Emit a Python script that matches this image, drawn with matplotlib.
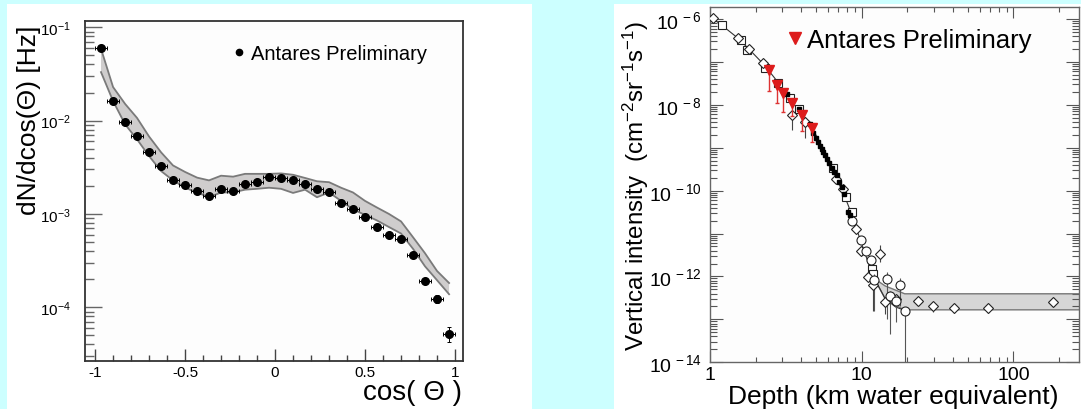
import matplotlib
matplotlib.use("Agg")
import matplotlib.pyplot as plt
import numpy as np
from matplotlib.patches import Rectangle
from matplotlib.lines import Line2D
from matplotlib.ticker import LogLocator, NullFormatter, FixedLocator, MultipleLocator

plt.rcParams['font.family'] = ['Liberation Sans', 'DejaVu Sans']
plt.rcParams['mathtext.fontset'] = 'custom'
plt.rcParams['mathtext.rm'] = 'Liberation Sans'
plt.rcParams['mathtext.it'] = 'Liberation Sans:italic'
plt.rcParams['mathtext.bf'] = 'Liberation Sans:bold'

# ---- left panel: zenith angle distribution ----
cos_theta = [-0.967, -0.9, -0.833, -0.767, -0.7, -0.633, -0.567, -0.5, -0.433, -0.367,
             -0.3, -0.233, -0.167, -0.1, -0.033, 0.033, 0.1, 0.167, 0.233, 0.3,
             0.367, 0.433, 0.5, 0.567, 0.633, 0.7, 0.767, 0.833, 0.9, 0.967]
rate = [0.0596, 0.0163, 0.0096, 0.00689, 0.00457, 0.00324, 0.00233, 0.00204, 0.00177, 0.00157,
        0.00185, 0.00177, 0.00209, 0.00221, 0.00249, 0.00243, 0.00233, 0.00208, 0.00185, 0.00172,
        0.00131, 0.00114, 0.000927, 0.000724, 0.000599, 0.000538, 0.000366, 0.000192, 0.000124, 5.16e-5]
rate_relerr = [0.02] * 25 + [0.03, 0.04, 0.08, 0.10, 0.18]
band_hi = [0.0589, 0.0229, 0.0151, 0.0107, 0.00676, 0.00457, 0.00331, 0.00282, 0.00245, 0.00229,
           0.00257, 0.00251, 0.00269, 0.00269, 0.00269, 0.00272, 0.00263, 0.00243, 0.00224, 0.00219,
           0.00191, 0.00170, 0.00138, 0.00117, 0.00100, 0.000832, 0.000562, 0.000380, 0.000245, 0.000182]
band_lo = [0.0331, 0.0162, 0.00912, 0.00631, 0.00417, 0.00288, 0.00229, 0.00191, 0.00170, 0.00151,
           0.00170, 0.00170, 0.00182, 0.00186, 0.00191, 0.00186, 0.00168, 0.00182, 0.00151, 0.00170,
           0.00138, 0.00112, 0.000977, 0.000851, 0.000724, 0.000617, 0.000422, 0.000275, 0.000195, 0.000138]
bin_half = 1 / 30

# ---- right panel: depth-intensity relation ----
curve_depth = [1.0, 1.20, 1.54, 1.83, 2.25, 2.67, 3.29, 4.06, 4.74, 5.56, 6.50, 7.60, 8.22,
               8.89, 10.1, 11.2, 12.1, 13.2, 14.3, 16.7, 19.2]
curve_int = [1.15e-6, 7.1e-7, 3.5e-7, 1.9e-7, 8.9e-8, 4.2e-8, 1.4e-8, 6.3e-9, 2.8e-9, 9.5e-10,
             2.75e-10, 8.5e-11, 4.2e-11, 1.9e-11, 5.2e-12, 1.8e-12, 8.9e-13, 5.1e-13, 3.0e-13,
             1.95e-13, 1.62e-13]

nu_band_depth = [12.1, 14.3, 19.2, 19.3, 300]
nu_band_hi = [8.9e-13, 6.0e-13, 3.95e-13, 3.95e-13, 3.95e-13]
nu_band_lo = [8.9e-13, 3.0e-13, 1.62e-13, 1.67e-13, 1.67e-13]

diam_depth = [1.05, 1.54, 1.80, 2.22, 3.47, 4.23, 6.75, 7.48, 9.14, 9.9, 10.97, 11.9, 13.2,
              14.3, 16.7, 23.4, 29.4, 40.6, 67.6, 183]
diam_int = [1.05e-6, 3.7e-7, 2.0e-7, 9.5e-8, 5.8e-9, 4.0e-9, 1.9e-10, 1.08e-10, 1.3e-11, 4.0e-12,
            9.7e-13, 6.2e-13, 3.4e-12, 2.5e-13, 3.0e-13, 2.75e-13, 2.1e-13, 1.8e-13, 1.8e-13, 2.5e-13]
diam_lo = [1.05e-6, 3.7e-7, 2.0e-7, 9.5e-8, 2.6e-9, 1.7e-9, 1.9e-10, 1.08e-10, 1.3e-11, 4.0e-12,
           9.7e-13, 1.6e-13, 2.2e-12, 1.3e-13, 3.0e-13, 2.75e-13, 1.5e-13, 1.4e-13, 1.4e-13, 2.5e-13]
diam_hi = [1.05e-6, 3.7e-7, 2.0e-7, 9.5e-8, 5.8e-9, 4.0e-9, 1.9e-10, 1.08e-10, 1.3e-11, 4.0e-12,
           9.7e-13, 6.2e-13, 5.5e-12, 2.5e-13, 3.0e-13, 2.75e-13, 2.1e-13, 1.8e-13, 1.8e-13, 2.5e-13]

sq_depth = [1.20, 1.59, 1.75, 2.30, 2.82, 3.37, 3.88, 6.50, 7.86, 8.6, 11.6, 11.9]
sq_int = [7.1e-7, 3.2e-7, 1.9e-7, 7.1e-8, 3.2e-8, 1.48e-8, 8.0e-9, 3.3e-10, 7.2e-11, 3.2e-11,
          1.5e-12, 1.15e-12]

circ_depth = [8.67, 9.88, 10.7, 11.57, 12.05, 14.6, 15.4, 16.7, 18.0, 19.2]
circ_int = [2.0e-11, 6.9e-12, 4.0e-12, 2.4e-12, 8.1e-13, 8.8e-13, 3.6e-13, 2.75e-13, 6.2e-13, 1.6e-13]
circ_lo = [2.0e-11, 6.9e-12, 4.0e-12, 2.4e-12, 1.55e-13, 1.0e-13, 4.6e-14, 8.5e-14, 2.1e-13, 1.0e-14]
circ_hi = [2.0e-11, 6.9e-12, 4.0e-12, 2.4e-12, 1.15e-12, 1.25e-12, 4.7e-13, 2.75e-13, 9.0e-13, 1.6e-13]

blk_depth = [3.23, 3.88, 4.55, 4.80, 4.99, 5.15, 5.31, 5.44, 5.58, 5.73, 5.88, 6.13, 6.35,
             6.58, 6.83, 7.10, 7.39, 7.66, 8.17, 8.37]
blk_int = [1.8e-8, 7.9e-9, 3.5e-9, 2.16e-9, 1.7e-9, 1.35e-9, 1.1e-9, 9.5e-10, 8.1e-10, 6.8e-10,
           5.6e-10, 4.5e-10, 3.4e-10, 2.75e-10, 2.3e-10, 1.6e-10, 1.22e-10, 8.5e-11, 3.2e-11, 2.7e-11]

ant_depth = [2.46, 2.75, 3.04, 3.46, 4.02, 4.73]
ant_int = [6.5e-8, 2.9e-8, 1.93e-8, 1.08e-8, 5.8e-9, 2.93e-9]
ant_lo = [2.1e-8, 1.08e-8, 6.9e-9, 5.4e-9, 2.4e-9, 1.37e-9]
ant_hi = [7.9e-8, 3.5e-8, 2.3e-8, 1.3e-8, 6.9e-9, 3.6e-9]

left_xticks = [-1, -0.5, 0, 0.5, 1]
left_xticklabels = ['-1', '-0.5', '0', '0.5', '1']
left_yticks = [1e-4, 1e-3, 1e-2, 1e-1]
left_yticklabels = [r'$10^{-4}$', r'$10^{-3}$', r'$10^{-2}$', r'$10^{-1}$']
right_xticks = [1, 10, 100]
right_xticklabels = ['1', '10', '100']
right_yticks = [1e-14, 1e-13, 1e-12, 1e-11, 1e-10, 1e-9, 1e-8, 1e-7, 1e-6]
right_yticklabels = [r'$10^{\,-14}$', '', r'$10^{\,-12}$', '', r'$10^{\,-10}$', '',
                     r'$10^{\,-8}$', '', r'$10^{\,-6}$']

W, H = 1081, 410
fig = plt.figure(figsize=(W / 100, H / 100), dpi=100)
fig.patch.set_facecolor('#ccffff')
fig.add_artist(Rectangle((7 / W, 0), (532 - 7) / W, 405 / H, transform=fig.transFigure,
                         facecolor='white', edgecolor='none', zorder=-5))
fig.add_artist(Rectangle((614 / W, 0), (W - 614) / W, 405 / H, transform=fig.transFigure,
                         facecolor='white', edgecolor='none', zorder=-5))

# ================= left =================
ax1 = fig.add_axes([85 / W, 1 - 362.3 / H, (463.3 - 85) / W, (362.3 - 21.7) / H])
ax1.set_facecolor('#fdfdfd')
ax1.fill_between(cos_theta, band_lo, band_hi, facecolor='#cfcdcd', edgecolor='none', zorder=1)
ax1.plot(cos_theta, band_hi, color='#7a7a7a', lw=1.3, zorder=2)
ax1.plot(cos_theta, band_lo, color='#7a7a7a', lw=1.3, zorder=2)
yerr = np.array(rate) * np.array(rate_relerr)
ax1.errorbar(cos_theta, rate, xerr=bin_half, yerr=yerr, fmt='o', color='black', ms=5.5,
             elinewidth=0.7, capsize=1.5, capthick=0.7, zorder=3)
ax1.set_yscale('log')
ax1.set_xlim(-1.056, 1.046)
ax1.set_ylim(10 ** -4.579, 10 ** -0.929)
ax1.set_xticks(left_xticks)
ax1.set_xticklabels(left_xticklabels)
ax1.xaxis.set_minor_locator(MultipleLocator(0.1))
ax1.set_yticks(left_yticks)
ax1.set_yticklabels(left_yticklabels)
ax1.yaxis.set_minor_locator(LogLocator(base=10, subs=np.arange(2, 10), numticks=100))
ax1.yaxis.set_minor_formatter(NullFormatter())
ax1.tick_params(axis='x', which='major', direction='in', length=9, width=1, labelsize=11,
                pad=3, color='#444444')
ax1.tick_params(axis='x', which='minor', direction='in', length=4.5, width=1, color='#444444')
ax1.tick_params(axis='y', which='major', direction='in', length=12, width=1, labelsize=11,
                pad=10, color='#666666')
ax1.tick_params(axis='y', which='minor', direction='in', length=6.5, width=1, color='#666666')
for s in ax1.spines.values():
    s.set_linewidth(1.3)
    s.set_color('#333333')

ax1.legend(handles=[Line2D([], [], marker='o', color='black', ms=4.5, ls='none')],
           labels=['Antares Preliminary'], loc='center left',
           bbox_to_anchor=(234.5 / W, 1 - 55 / H), bbox_transform=fig.transFigure,
           frameon=False, fontsize=14.5, handlelength=0.45, handletextpad=0.35,
           borderpad=0, borderaxespad=0)

fig.text(29 / W, 1 - 120 / H, 'dN/dcos(Θ) [Hz]', rotation=90, ha='center', va='center',
         fontsize=19)
fig.text(462 / W, 1 - 393 / H, 'cos( Θ )', ha='right', va='center', fontsize=20)

# ================= right =================
ax2 = fig.add_axes([710 / W, 1 - 363.3 / H, (1079 - 710) / W, (363.3 - 8.3) / H])
ax2.set_facecolor('#fdfdfd')
ax2.set_xscale('log')
ax2.set_yscale('log')
ax2.fill_between(nu_band_depth, nu_band_lo, nu_band_hi, facecolor='#d6d6d6',
                 edgecolor='none', zorder=1)
ax2.plot(nu_band_depth, nu_band_hi, color='#777777', lw=1.0, zorder=2)
ax2.plot(nu_band_depth, nu_band_lo, color='#777777', lw=1.0, zorder=2)
ax2.plot(curve_depth, curve_int, color='#333333', lw=0.8, zorder=2)

d_int = np.array(diam_int)
ax2.errorbar(diam_depth, diam_int, yerr=[d_int - np.array(diam_lo), np.array(diam_hi) - d_int],
             fmt='D', ms=5, mfc='white', mec='#222222', mew=0.8, ecolor='#444444',
             elinewidth=0.8, capsize=0, zorder=4)
c_int = np.array(circ_int)
ax2.errorbar(circ_depth, circ_int, yerr=[c_int - np.array(circ_lo), np.array(circ_hi) - c_int],
             fmt='o', ms=6.5, mfc='white', mec='#222222', mew=0.8, ecolor='#555555',
             elinewidth=0.8, capsize=0, zorder=4)
ax2.plot(sq_depth, sq_int, 's', ms=5.5, mfc='white', mec='#222222', mew=0.8, zorder=3)
ax2.plot(blk_depth, blk_int, 's', ms=3, color='black', zorder=5)
a_int = np.array(ant_int)
ax2.errorbar(ant_depth, ant_int, yerr=[a_int - np.array(ant_lo), np.array(ant_hi) - a_int],
             fmt='v', ms=7.5, color='#dd1c1c', ecolor='#dd3333', elinewidth=1.0,
             capsize=1.5, capthick=1.0, zorder=6)

ax2.set_xlim(1, 10 ** 2.432)
ax2.set_ylim(1e-14, 10 ** -5.727)
ax2.xaxis.set_major_locator(FixedLocator(right_xticks))
ax2.set_xticklabels(right_xticklabels)
ax2.xaxis.set_minor_locator(LogLocator(base=10, subs=np.arange(2, 10), numticks=100))
ax2.xaxis.set_minor_formatter(NullFormatter())
ax2.yaxis.set_major_locator(FixedLocator(right_yticks))
ax2.set_yticklabels(right_yticklabels)
ax2.yaxis.set_minor_locator(LogLocator(base=10, subs=np.arange(2, 10), numticks=100))
ax2.yaxis.set_minor_formatter(NullFormatter())
ax2.tick_params(axis='both', which='both', direction='in', top=True, right=True,
                color='#555555', width=0.8)
ax2.tick_params(axis='x', which='major', length=7.7, labelsize=14, pad=3)
ax2.tick_params(axis='x', which='minor', length=3.6)
ax2.tick_params(axis='y', which='major', length=9.4, labelsize=14, pad=6)
ax2.tick_params(axis='y', which='minor', length=4.8)
for s in ax2.spines.values():
    s.set_linewidth(1.0)
    s.set_color('#666666')

ax2.legend(handles=[Line2D([], [], marker='v', color='#dd1c1c', ms=8, ls='none')],
           labels=['Antares Preliminary'], loc='center left',
           bbox_to_anchor=(787.6 / W, 1 - 41 / H), bbox_transform=fig.transFigure,
           frameon=False, fontsize=18.5, handlelength=0.55, handletextpad=0.22,
           borderpad=0, borderaxespad=0)

fig.text(636 / W, 1 - 185.5 / H, r'Vertical intensity  (cm$^{-2}$sr$^{-1}$s$^{-1}$)',
         rotation=90, ha='center', va='center', fontsize=17.4)
fig.text(893 / W, 1 - 397 / H, 'Depth (km water equivalent)', ha='center', va='center',
         fontsize=19)

fig.savefig('out.png', dpi=100, facecolor=fig.get_facecolor())
